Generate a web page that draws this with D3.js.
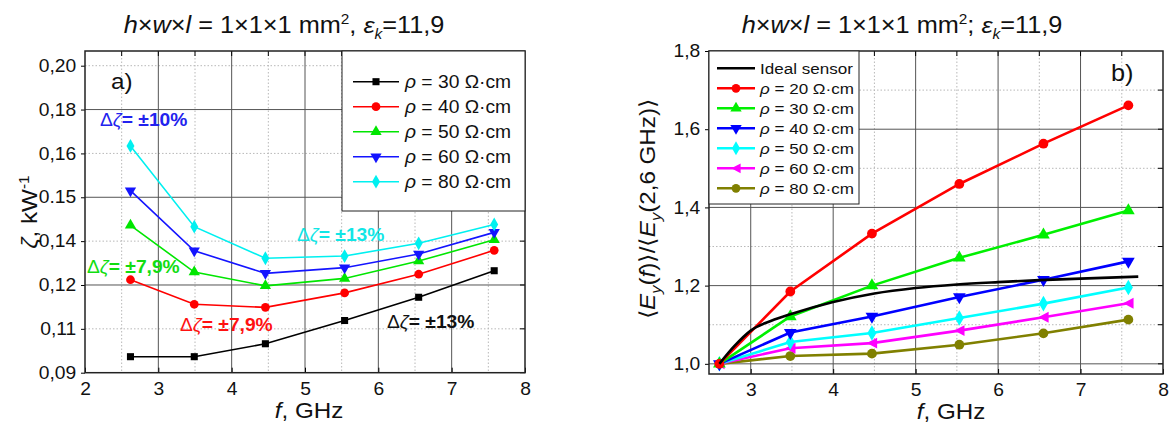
<!DOCTYPE html>
<html>
<head>
<meta charset="utf-8">
<script src="https://cdn.jsdelivr.net/npm/d3@7"></script>
<style>
  body { margin: 0; background: #fff; }
  svg { font-family: "Liberation Sans", Arial, sans-serif; }
</style>
</head>
<body>
<svg id="fig" width="1171" height="425"></svg>
<script>
// ---------- Panel a: sensitivity ζ vs frequency ----------
const freqA = [2.62, 3.49, 4.46, 5.54, 6.55, 7.58];
const zetaTicks = [0.09, 0.11, 0.12, 0.14, 0.15, 0.16, 0.18, 0.20];
const zetaTickLabels = ["0,09", "0,11", "0,12", "0,14", "0.15", "0,16", "0,18", "0,20"];
const rho30 = [0.0973, 0.0973, 0.1032, 0.1119, 0.1172, 0.1265];
const rho40 = [0.1224, 0.1156, 0.1149, 0.1182, 0.1249, 0.1358];
const rho50 = [0.1436, 0.1259, 0.1198, 0.1230, 0.1309, 0.1403];
const rho60 = [0.1515, 0.1356, 0.1253, 0.1279, 0.1341, 0.1420];
const rho80 = [0.1634, 0.1433, 0.1322, 0.1332, 0.1390, 0.1438];
const xTicksA = [2, 3, 4, 5, 6, 7, 8];

// ---------- Panel b: normalised field vs frequency ----------
const freqB = [2.62, 3.48, 4.47, 5.53, 6.55, 7.58];
const eRho20 = [1.0, 1.185, 1.333, 1.460, 1.563, 1.661];
const eRho30 = [1.0, 1.121, 1.200, 1.271, 1.330, 1.392];
const eRho40 = [1.0, 1.080, 1.121, 1.171, 1.215, 1.262];
const eRho50 = [1.0, 1.056, 1.079, 1.117, 1.154, 1.195];
const eRho60 = [1.0, 1.040, 1.053, 1.085, 1.119, 1.155];
const eRho80 = [1.0, 1.020, 1.026, 1.049, 1.078, 1.113];
const idealF = [2.62, 2.8, 3.0, 3.25, 3.5, 4.0, 4.5, 5.0, 5.5, 6.0, 6.5, 7.0, 7.7];
const idealE = [1.0, 1.045, 1.085, 1.110, 1.128, 1.158, 1.180, 1.194, 1.203, 1.209, 1.214, 1.218, 1.223];
const yTicksB = [1.0, 1.2, 1.4, 1.6, 1.8];
const xTicksB = [3, 4, 5, 6, 7, 8];

const svg = d3.select("#fig");
const SX = 1.1; // slightly widened lettering

function symbolPath(type, size) {
  if (type === "left") {
    const s = Math.sqrt(size) * 0.62;
    return `M${-s},0L${s},${-s * 1.05}L${s},${s * 1.05}Z`;
  }
  const map = {
    square: d3.symbolSquare, circle: d3.symbolCircle, up: d3.symbolTriangle,
    down: d3.symbolTriangle, diamond: d3.symbolDiamond
  };
  return d3.symbol().type(map[type]).size(size)();
}
function markerTransform(type, x, y) {
  return type === "down" ? `translate(${x},${y}) rotate(180)` : `translate(${x},${y})`;
}

// text positioned at (x, y), optionally rotated, with widened glyphs
function label(parent, x, y, size, rot) {
  return parent.append("text")
    .attr("transform", `translate(${x},${y})${rot ? ` rotate(${rot})` : ""} scale(${SX},1)`)
    .attr("font-size", size).attr("fill", "#111");
}
// rich text helper: segments with style flags
function rich(sel, parts) {
  parts.forEach(p => {
    const t = sel.append("tspan").text(p.t);
    if (p.i) t.attr("font-style", "italic");
    if (p.b) t.attr("font-weight", "bold");
    if (p.dy) t.attr("dy", p.dy);
    if (p.fs) t.attr("font-size", p.fs);
  });
  return sel;
}
function styleTicks(g, size) {
  g.select(".domain").remove();
  g.selectAll(".tick line").attr("stroke", "#000");
  g.selectAll("text").attr("font-size", size).attr("fill", "#111")
    .attr("font-family", "Liberation Sans, Arial, sans-serif")
    .attr("transform", `scale(${SX},1)`);
}
function titleParts(sep) {
  return [{ t: "h", i: true }, { t: "×" }, { t: "w", i: true }, { t: "×" }, { t: "l", i: true }, { t: " = 1×1×1 mm" },
    { t: "2", dy: -9, fs: 14 }, { t: sep + " ", dy: 9 }, { t: "ε", i: true }, { t: "k", i: true, dy: 6, fs: 14 }, { t: "=11,9", dy: -6 }];
}

// ======================= PANEL A =======================
const A = { l: 85, r: 525, t: 51, b: 372.7, top0: 65.7 };
const xA = d3.scaleLinear().domain([2, 8]).range([A.l, A.r]);
const stepA = (A.b - A.top0) / (zetaTicks.length - 1);
const yA = d3.scaleLinear().domain(zetaTicks).range(zetaTicks.map((d, i) => A.b - i * stepA));

const gA = svg.append("g");
// grid
gA.append("g").selectAll("line").data(d3.range(2.5, 8, 1)).join("line")
  .attr("x1", d => xA(d)).attr("x2", d => xA(d)).attr("y1", A.t).attr("y2", A.b)
  .attr("stroke", "#b8b8b8").attr("stroke-dasharray", "1.5,2");
gA.append("g").selectAll("line").data(zetaTicks.filter((d, i) => i % 2 === 1)).join("line")
  .attr("x1", A.l).attr("x2", A.r).attr("y1", d => yA(d)).attr("y2", d => yA(d))
  .attr("stroke", "#b8b8b8").attr("stroke-dasharray", "1.5,2");
gA.append("g").selectAll("line").data(xTicksA.slice(1, -1)).join("line")
  .attr("x1", d => xA(d)).attr("x2", d => xA(d)).attr("y1", A.t).attr("y2", A.b)
  .attr("stroke", "#555").attr("stroke-width", 1);
gA.append("g").selectAll("line").data(zetaTicks.filter((d, i) => i % 2 === 0 && i > 0)).join("line")
  .attr("x1", A.l).attr("x2", A.r).attr("y1", d => yA(d)).attr("y2", d => yA(d))
  .attr("stroke", "#555").attr("stroke-width", 1);

// axes with inward ticks
gA.append("g").attr("transform", `translate(0,${A.b})`)
  .call(d3.axisBottom(xA).tickValues(xTicksA).tickSize(-5).tickPadding(10).tickFormat(d3.format("d")))
  .call(g => styleTicks(g, 17.5));
gA.append("g").attr("transform", `translate(${A.l},0)`)
  .call(d3.axisLeft(yA).tickValues(zetaTicks).tickSize(4).tickPadding(4).tickFormat((d, i) => zetaTickLabels[i]))
  .call(g => styleTicks(g, 17.5));
// top and right ticks
gA.append("g").selectAll("line").data(d3.range(2.5, 8, 0.5)).join("line")
  .attr("x1", d => xA(d)).attr("x2", d => xA(d)).attr("y1", A.t).attr("y2", A.t + 5).attr("stroke", "#000");
gA.append("g").selectAll("line").data(zetaTicks).join("line")
  .attr("x1", A.r).attr("x2", A.r - 5).attr("y1", d => yA(d)).attr("y2", d => yA(d)).attr("stroke", "#000");
gA.append("rect").attr("x", A.l).attr("y", A.t).attr("width", A.r - A.l).attr("height", A.b - A.t)
  .attr("fill", "none").attr("stroke", "#222").attr("stroke-width", 1.5);

const seriesA = [
  { name: "30", vals: rho30, color: "#000000", sym: "square", size: 50 },
  { name: "40", vals: rho40, color: "#ff0000", sym: "circle", size: 60 },
  { name: "50", vals: rho50, color: "#00e600", sym: "up", size: 55 },
  { name: "60", vals: rho60, color: "#1414ff", sym: "down", size: 55 },
  { name: "80", vals: rho80, color: "#00f0f0", sym: "diamond", size: 55 }
];
const lineA = d3.line().x((d, i) => xA(freqA[i])).y(d => yA(d));
seriesA.forEach(s => {
  gA.append("path").attr("d", lineA(s.vals)).attr("fill", "none")
    .attr("stroke", s.color).attr("stroke-width", 1.6);
  gA.append("g").selectAll("path").data(s.vals).join("path")
    .attr("d", symbolPath(s.sym, s.size))
    .attr("transform", (d, i) => markerTransform(s.sym, xA(freqA[i]), yA(d)))
    .attr("fill", s.color);
});

// legend a
const legA = gA.append("g");
legA.append("rect").attr("x", 342).attr("y", A.t).attr("width", A.r - 342).attr("height", 160)
  .attr("fill", "#fff").attr("stroke", "#222").attr("stroke-width", 1);
seriesA.forEach((s, k) => {
  const y = 81.7 + k * 25;
  legA.append("line").attr("x1", 353).attr("x2", 399).attr("y1", y).attr("y2", y)
    .attr("stroke", s.color).attr("stroke-width", 1.6);
  legA.append("path").attr("d", symbolPath(s.sym, s.size)).attr("transform", markerTransform(s.sym, 376, y)).attr("fill", s.color);
  rich(label(legA, 405, y + 6.3, 17.5), [{ t: "ρ", i: true }, { t: ` = ${s.name} Ω·cm` }]);
});

// panel label and annotations
label(gA, 111, 89, 22).text("a)");
const annA = [
  { x: 100, y: 126, c: "#2222ee", pct: "±10%" },
  { x: 87, y: 273, c: "#11dd11", pct: "±7,9%" },
  { x: 180, y: 331, c: "#ff1111", pct: "±7,9%" },
  { x: 297, y: 241, c: "#11e6e6", pct: "±13%" },
  { x: 387, y: 328, c: "#111111", pct: "±13%" }
];
annA.forEach(a => {
  rich(label(gA, a.x, a.y, 17.5).attr("fill", a.c),
    [{ t: "Δ" }, { t: "ζ", i: true }, { t: "= " + a.pct, b: true }]);
});

// titles a
rich(label(svg, 284, 33, 23).attr("text-anchor", "middle"), titleParts(","));
rich(label(svg, 37, 212, 22, -90).attr("text-anchor", "middle"),
  [{ t: "ζ", i: true }, { t: ", kW" }, { t: "-1", dy: -8, fs: 14 }]);
rich(label(svg, 309, 418, 22).attr("text-anchor", "middle"),
  [{ t: "f", i: true }, { t: ", GHz" }]);

// ======================= PANEL B =======================
const B = { l: 709, r: 1163, t: 51, b: 374 };
const xB = d3.scaleLinear().domain([2.494, 8]).range([B.l, B.r]);
const yB = d3.scaleLinear().domain([0.974, 1.8]).range([B.b, B.t]);
const gB = svg.append("g");

gB.append("g").selectAll("line").data(d3.range(3.5, 8, 1)).join("line")
  .attr("x1", d => xB(d)).attr("x2", d => xB(d)).attr("y1", B.t).attr("y2", B.b)
  .attr("stroke", "#b8b8b8").attr("stroke-dasharray", "1.5,2");
gB.append("g").selectAll("line").data([1.1, 1.3, 1.5, 1.7]).join("line")
  .attr("x1", B.l).attr("x2", B.r).attr("y1", d => yB(d)).attr("y2", d => yB(d))
  .attr("stroke", "#b8b8b8").attr("stroke-dasharray", "1.5,2");
gB.append("g").selectAll("line").data(xTicksB.slice(0, -1)).join("line")
  .attr("x1", d => xB(d)).attr("x2", d => xB(d)).attr("y1", B.t).attr("y2", B.b)
  .attr("stroke", "#555");
gB.append("g").selectAll("line").data(yTicksB.slice(0, -1)).join("line")
  .attr("x1", B.l).attr("x2", B.r).attr("y1", d => yB(d)).attr("y2", d => yB(d))
  .attr("stroke", "#555");

gB.append("g").attr("transform", `translate(0,${B.b})`)
  .call(d3.axisBottom(xB).tickValues(xTicksB).tickSize(-5).tickPadding(10).tickFormat(d3.format("d")))
  .call(g => styleTicks(g, 17.5));
gB.append("g").attr("transform", `translate(${B.l},0)`)
  .call(d3.axisLeft(yB).tickValues(yTicksB).tickSize(4).tickPadding(4).tickFormat(d => d3.format(".1f")(d).replace(".", ",")))
  .call(g => styleTicks(g, 17.5));
gB.append("g").selectAll("line").data(d3.range(3, 8, 0.5)).join("line")
  .attr("x1", d => xB(d)).attr("x2", d => xB(d)).attr("y1", B.t).attr("y2", B.t + 5).attr("stroke", "#000");
gB.append("g").selectAll("line").data(d3.range(1.0, 1.75, 0.1)).join("line")
  .attr("x1", B.r).attr("x2", B.r - 5).attr("y1", d => yB(d)).attr("y2", d => yB(d)).attr("stroke", "#000");
gB.append("rect").attr("x", B.l).attr("y", B.t).attr("width", B.r - B.l).attr("height", B.b - B.t)
  .attr("fill", "none").attr("stroke", "#222").attr("stroke-width", 1.5);

const seriesB = [
  { name: "20", vals: eRho20, color: "#ff0000", sym: "circle", size: 75 },
  { name: "30", vals: eRho30, color: "#00f000", sym: "up", size: 70 },
  { name: "40", vals: eRho40, color: "#0000ff", sym: "down", size: 70 },
  { name: "50", vals: eRho50, color: "#00ffff", sym: "diamond", size: 70 },
  { name: "60", vals: eRho60, color: "#ff00ff", sym: "left", size: 70 },
  { name: "80", vals: eRho80, color: "#808000", sym: "circle", size: 75 }
];
const lineB = d3.line().x((d, i) => xB(freqB[i])).y(d => yB(d));
const idealLine = d3.line().curve(d3.curveMonotoneX).x((d, i) => xB(idealF[i])).y(d => yB(d));

// lowest curves are drawn last so they sit on top at the common start point
[...seriesB].reverse().forEach(s => {
  gB.append("path").attr("d", lineB(s.vals)).attr("fill", "none")
    .attr("stroke", s.color).attr("stroke-width", 2.6);
  gB.append("g").selectAll("path").data(s.vals).join("path")
    .attr("d", symbolPath(s.sym, s.size))
    .attr("transform", (d, i) => markerTransform(s.sym, xB(freqB[i]), yB(d)))
    .attr("fill", s.color);
});
gB.append("path").attr("d", idealLine(idealE)).attr("fill", "none")
  .attr("stroke", "#000").attr("stroke-width", 2.6);

// legend b
const legB = gB.append("g");
legB.append("rect").attr("x", B.l).attr("y", B.t).attr("width", 150).attr("height", 153)
  .attr("fill", "#fff").attr("stroke", "#222").attr("stroke-width", 1);
legB.append("line").attr("x1", 717).attr("x2", 755).attr("y1", 68.3).attr("y2", 68.3)
  .attr("stroke", "#000").attr("stroke-width", 2.6);
label(legB, 760, 73.8, 15.5).text("Ideal sensor");
seriesB.forEach((s, k) => {
  const y = 88.3 + k * 20;
  legB.append("line").attr("x1", 717).attr("x2", 755).attr("y1", y).attr("y2", y)
    .attr("stroke", s.color).attr("stroke-width", 2.6);
  legB.append("path").attr("d", symbolPath(s.sym, s.size * 0.8)).attr("transform", markerTransform(s.sym, 736, y)).attr("fill", s.color);
  rich(label(legB, 760, y + 5.5, 15.5), [{ t: "ρ", i: true }, { t: ` = ${s.name} Ω·cm` }]);
});

label(gB, 1111, 81, 23).text("b)");

rich(label(svg, 902, 33, 23).attr("text-anchor", "middle"), titleParts(";"));
rich(label(svg, 655, 209, 22, -90).attr("text-anchor", "middle"),
  [{ t: "⟨" }, { t: "E", i: true }, { t: "y", i: true, dy: 6, fs: 15 }, { t: "(", dy: -6 }, { t: "f", i: true }, { t: ")⟩/⟨" },
   { t: "E", i: true }, { t: "y", i: true, dy: 6, fs: 15 }, { t: "(2,6 GHz)⟩", dy: -6 }]);
rich(label(svg, 951, 419, 22).attr("text-anchor", "middle"),
  [{ t: "f", i: true }, { t: ", GHz" }]);
</script>
</body>
</html>
